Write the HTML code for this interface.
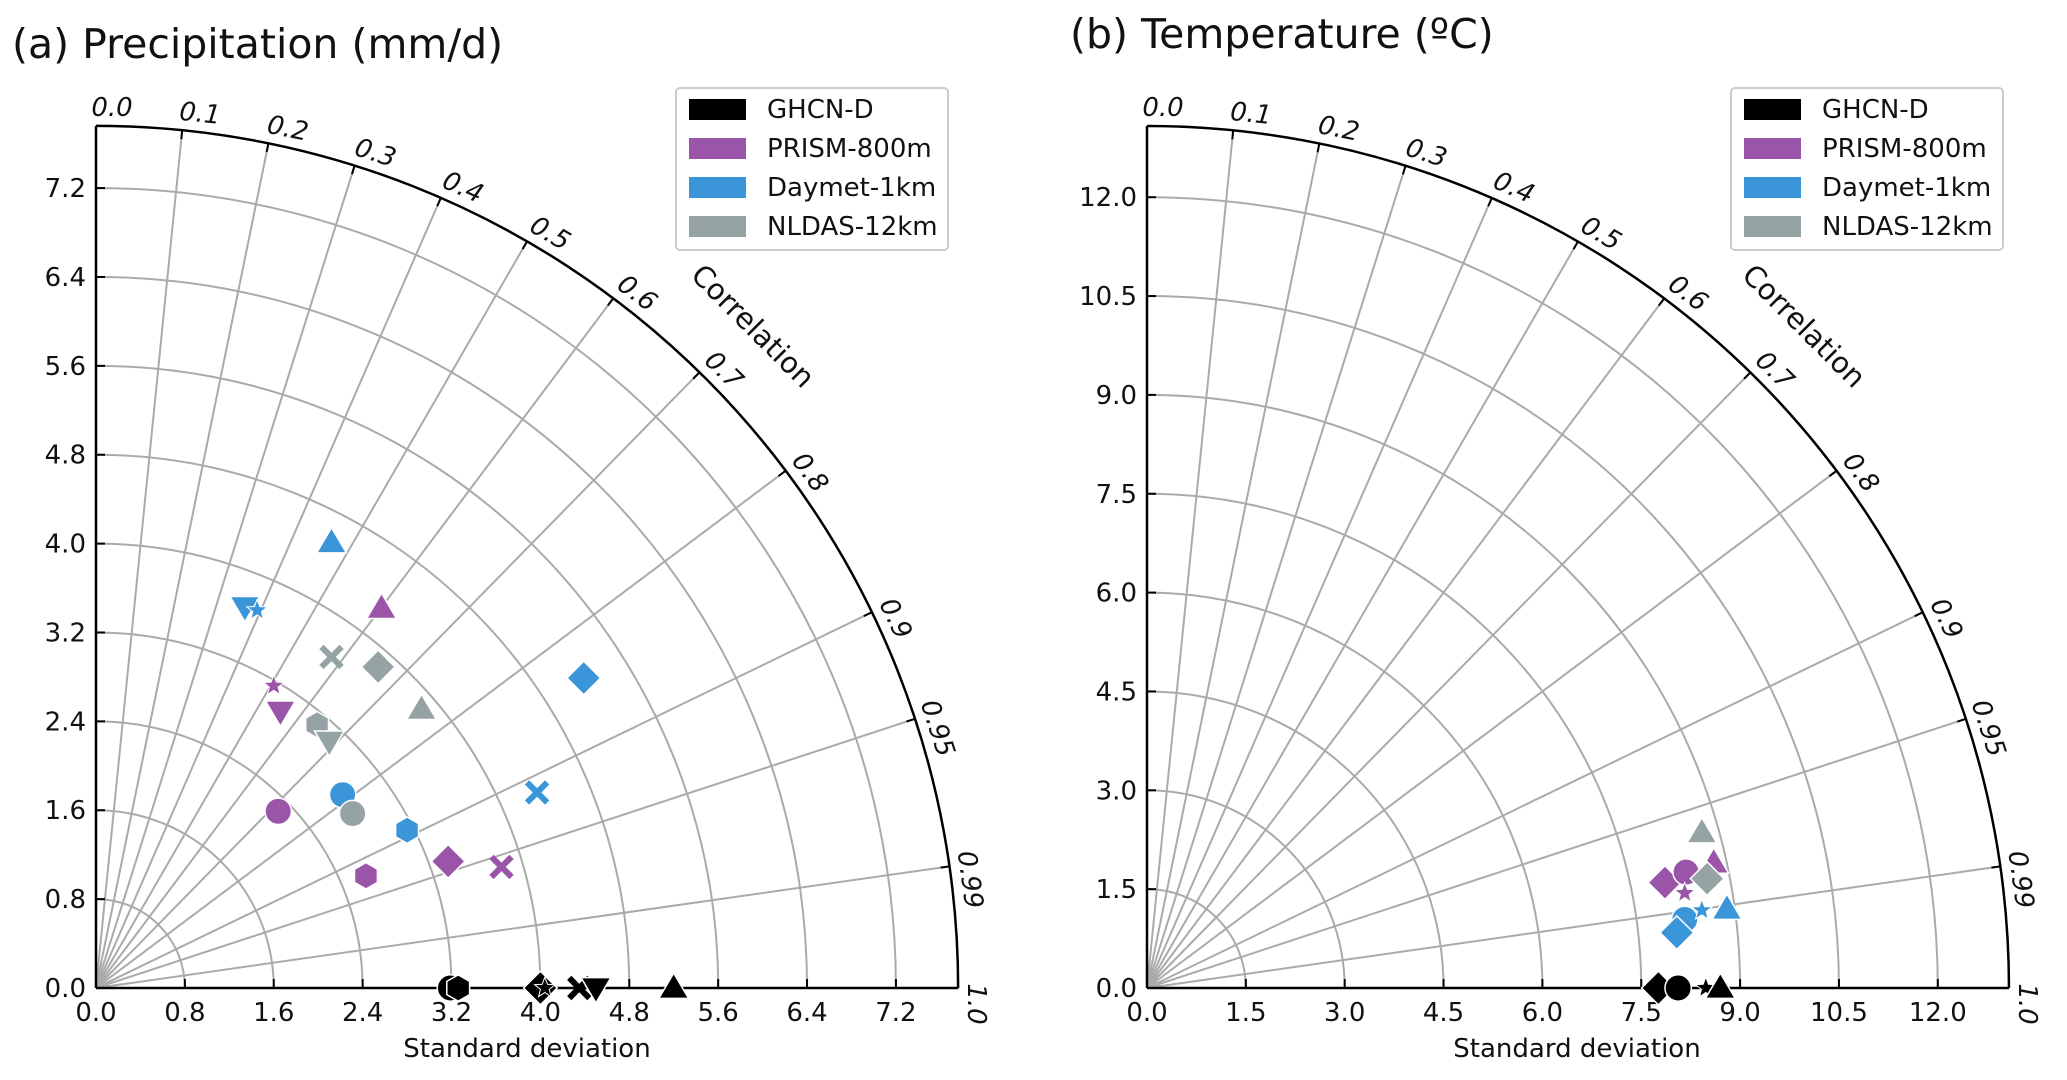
<!DOCTYPE html>
<html><head><meta charset="utf-8">
<style>
html,body{margin:0;padding:0;background:#fff;}
svg{display:block;font-family:"DejaVu Sans","Liberation Sans",sans-serif;}
</style></head>
<body>
<svg id="chart" width="2067" height="1080" viewBox="0 0 2067 1080" xmlns="http://www.w3.org/2000/svg">
<text x="12" y="58" font-size="41" fill="#111">(a)  Precipitation (mm/d)</text>
<text x="1070" y="48" font-size="41" fill="#111">(b)  Temperature (ºC)</text>
</svg>
<script>
// ---- data ----
const seriesNames = ["GHCN-D","PRISM-800m","Daymet-1km","NLDAS-12km"];
const seriesColors = ["#000000","#9b55a8","#3a96d8","#95a3a4"];
const corrTicks = [0.0,0.1,0.2,0.3,0.4,0.5,0.6,0.7,0.8,0.9,0.95,0.99,1.0];
const stdTicksA = [0.0,0.8,1.6,2.4,3.2,4.0,4.8,5.6,6.4,7.2];
const stdTicksB = [0.0,1.5,3.0,4.5,6.0,7.5,9.0,10.5,12.0];
// Panel a points: [series, marker, x-component, y-component] in mm/d
const pointsA_series = [0,0,0,0,0,0,0, 1,1,1,1,1,1,1, 2,2,2,2,2,2,2, 3,3,3,3,3,3];
const pointsA_marker = ["circle","hexagon","diamond","star","x","tridown","triup",
 "circle","hexagon","diamond","x","triup","tridown","star",
 "triup","tridown","star","diamond","x","circle","hexagon",
 "x","diamond","triup","hexagon","tridown","circle"];
const pointsA_x = [3.19,3.26,4.0,4.04,4.35,4.5,5.2, 1.64,2.43,3.17,3.65,2.57,1.66,1.60, 2.12,1.34,1.45,4.39,3.97,2.22,2.80, 2.12,2.54,2.93,1.99,2.10,2.31];
const pointsA_y = [0,0,0,0,0,0,0, 1.59,1.01,1.14,1.09,3.42,2.49,2.72, 4.01,3.43,3.40,2.79,1.76,1.74,1.42, 2.98,2.89,2.51,2.37,2.22,1.57];
// Panel b points (degC)
const pointsB_series = [0,0,0,0, 1,1,1,1, 3,3, 2,2,2,2];
const pointsB_marker = ["diamond","circle","star","triup", "diamond","circle","triup","star", "triup","diamond", "circle","diamond","star","triup"];
const pointsB_x = [7.76,8.06,8.48,8.7, 7.86,8.18,8.6,8.16, 8.42,8.5, 8.16,8.04,8.42,8.8];
const pointsB_y = [0,0,0,0, 1.6,1.76,1.9,1.44, 2.36,1.66, 1.04,0.84,1.18,1.2];

const NS="http://www.w3.org/2000/svg";
const svg=document.getElementById('chart');
function mk(tag,attrs,parent){const e=document.createElementNS(NS,tag);for(const k in attrs)e.setAttribute(k,attrs[k]);(parent||svg).appendChild(e);return e;}

function marker(g,type,cx,cy,color,s){
  let e;const w='#fff';
  if(type==='circle'){e=mk('circle',{cx:cx,cy:cy,r:s*0.55,fill:color,stroke:w,'stroke-width':1.5},g);}
  else if(type==='hexagon'){let p=[];for(let i=0;i<6;i++){const a=Math.PI/6+i*Math.PI/3;p.push((cx+s*0.55*Math.cos(a)).toFixed(1)+','+(cy+s*0.55*Math.sin(a)).toFixed(1));}e=mk('polygon',{points:p.join(' '),fill:color,stroke:w,'stroke-width':1.5},g);}
  else if(type==='diamond'){const r=s*0.7;e=mk('polygon',{points:`${cx},${cy-r} ${cx+r},${cy} ${cx},${cy+r} ${cx-r},${cy}`,fill:color,stroke:w,'stroke-width':1.5},g);}
  else if(type==='triup'){const r=s*0.62;e=mk('polygon',{points:`${cx},${cy-r} ${cx+r},${cy+r*0.7} ${cx-r},${cy+r*0.7}`,fill:color,stroke:w,'stroke-width':1.5},g);}
  else if(type==='tridown'){const r=s*0.62;e=mk('polygon',{points:`${cx},${cy+r} ${cx+r},${cy-r*0.7} ${cx-r},${cy-r*0.7}`,fill:color,stroke:w,'stroke-width':1.5},g);}
  else if(type==='star'){let p=[];const R=s*0.45,r=R*0.42;for(let i=0;i<10;i++){const a=-Math.PI/2+i*Math.PI/5;const rr=i%2?r:R;p.push((cx+rr*Math.cos(a)).toFixed(1)+','+(cy+rr*Math.sin(a)).toFixed(1));}e=mk('polygon',{points:p.join(' '),fill:color,stroke:w,'stroke-width':1},g);}
  else if(type==='x'){const r=s*0.42;e=mk('path',{d:`M${cx-r},${cy-r}L${cx+r},${cy+r}M${cx-r},${cy+r}L${cx+r},${cy-r}`,stroke:color,'stroke-width':6,fill:'none'},g);}
  return e;
}

function panel(id,ox,oy,scale,maxStd,stdTicks,fmt,sers,mks,xs,ys,legX,xlabelX){
  const R=maxStd*scale;
  const g=mk('g',{});
  
  
  const sx=v=>ox+v*scale, sy=v=>oy-v*scale;
  stdTicks.forEach(t=>{if(t<=0)return;const r=t*scale;
    const a=mk('path',{d:`M${ox},${oy-r}A${r},${r} 0 0 1 ${ox+r},${oy}`,fill:'none',stroke:'#aaa','stroke-width':2},g);
    
    
  });
  corrTicks.forEach(c=>{const th=Math.acos(c);const dx=Math.cos(th),dy=-Math.sin(th);
    if(c>0&&c<1){const l=mk('line',{x1:ox,y1:oy,x2:ox+R*dx,y2:oy+R*dy,stroke:'#aaa','stroke-width':2},g);
      
      }
    mk('line',{x1:ox+R*dx,y1:oy+R*dy,x2:ox+(R-9)*dx,y2:oy+(R-9)*dy,stroke:'#000','stroke-width':2},g);
    const lr=R+10;const rot=90-th*180/Math.PI;
    const tx=mk('text',{x:16,y:0,'font-size':26,'font-style':'italic',fill:'#111','text-anchor':'middle',transform:`translate(${ox+lr*dx},${oy+lr*dy}) rotate(${rot})`},g);
    tx.textContent=c.toFixed(c===0.95||c===0.99?2:1);
    
    
  });
  const cl=mk('text',{x:0,y:0,'font-size':29,fill:'#111','text-anchor':'middle',transform:`translate(${ox+650},${oy-655}) rotate(45)`},g);
  cl.textContent='Correlation';
  
  
  mk('path',{d:`M${ox},${oy-R}A${R},${R} 0 0 1 ${ox+R},${oy}`,fill:'none',stroke:'#000','stroke-width':2.5},g);
  mk('line',{x1:ox,y1:oy,x2:ox,y2:oy-R,stroke:'#000','stroke-width':2.5},g);
  mk('line',{x1:ox,y1:oy,x2:ox+R,y2:oy,stroke:'#000','stroke-width':2.5},g);
  stdTicks.forEach(t=>{
    mk('line',{x1:sx(t),y1:oy,x2:sx(t),y2:oy-9,stroke:'#000','stroke-width':2},g);
    mk('line',{x1:ox,y1:sy(t),x2:ox+9,y2:sy(t),stroke:'#000','stroke-width':2},g);
    const a=mk('text',{x:sx(t),y:oy+33,'font-size':26,'text-anchor':'middle',fill:'#111'},g);a.textContent=t.toFixed(1);
    
    
    const b=mk('text',{x:ox-10,y:sy(t)+9,'font-size':26,'text-anchor':'end',fill:'#111'},g);b.textContent=t.toFixed(1);
    
    
  });
  const xl=mk('text',{x:xlabelX,y:oy+69,'font-size':26,'text-anchor':'middle',fill:'#111'},g);
  xl.textContent='Standard deviation';
  
  
  for(let i=0;i<xs.length;i++){
    const m=marker(g,mks[i],sx(xs[i]),sy(ys[i]),seriesColors[sers[i]],24);
    
    
  }
  const lg=mk('g',{},g);
  
  
  mk('rect',{x:legX,y:88,width:272,height:162,rx:4,fill:'#fff',stroke:'#ccc','stroke-width':2},lg);
  seriesNames.forEach((n,i)=>{
    const y=109+i*39;
    const r=mk('rect',{x:legX+13,y:y-10,width:57,height:21,fill:seriesColors[i]},lg);
    
    
    const t=mk('text',{x:legX+91,y:y+9,'font-size':26,fill:'#111'},lg);t.textContent=n;
    
    
  });
}
panel('panel-a-precipitation',96,988,111.1,7.76,stdTicksA,1,pointsA_series,pointsA_marker,pointsA_x,pointsA_y,676,527);
panel('panel-b-temperature',1147,988,65.9,13.08,stdTicksB,1,pointsB_series,pointsB_marker,pointsB_x,pointsB_y,1731,1577);
</script>
</body></html>
